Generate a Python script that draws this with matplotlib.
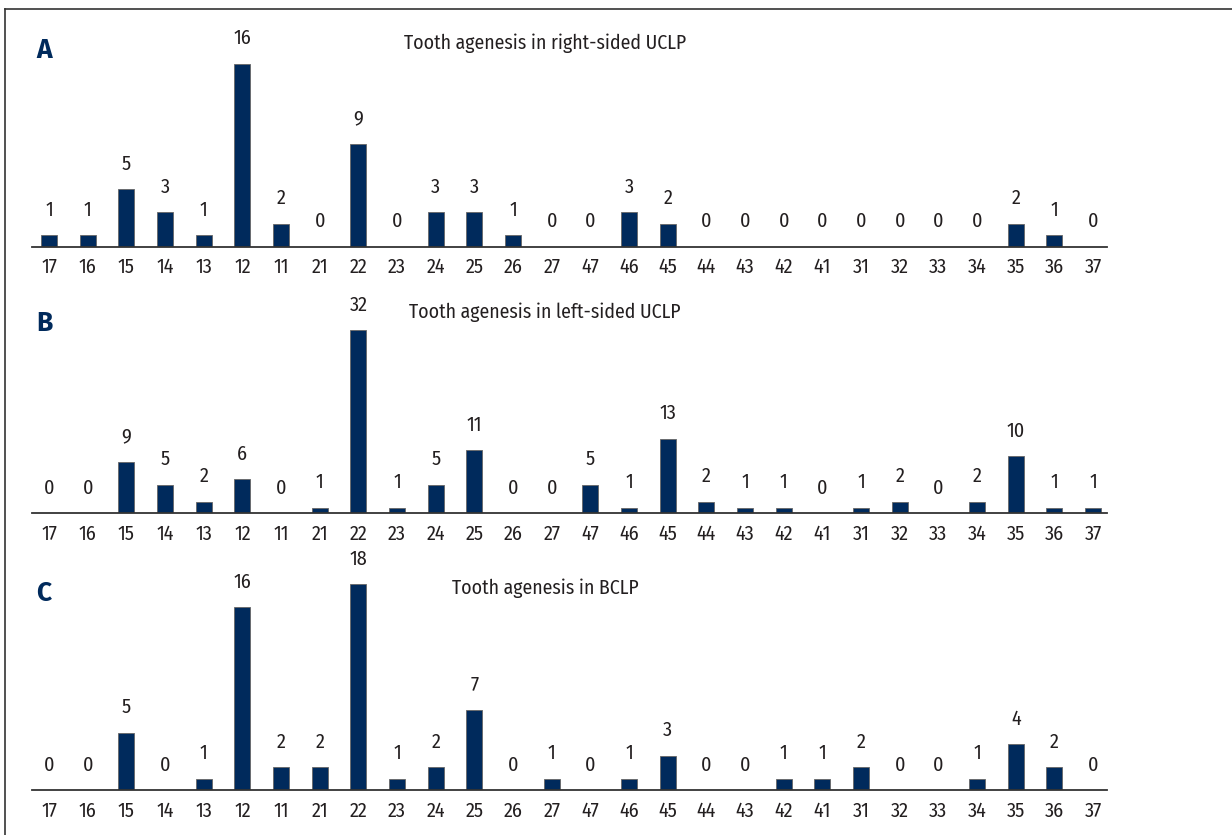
import matplotlib
matplotlib.use("Agg")
import matplotlib.pyplot as plt
from matplotlib.lines import Line2D

plt.rcParams['font.family'] = ['Fira Sans Condensed', 'DejaVu Sans']

teeth = ["17", "16", "15", "14", "13", "12", "11",
         "21", "22", "23", "24", "25", "26", "27",
         "47", "46", "45", "44", "43", "42", "41",
         "31", "32", "33", "34", "35", "36", "37"]

right_uclp = [1, 1, 5, 3, 1, 16, 2, 0, 9, 0, 3, 3, 1, 0,
              0, 3, 2, 0, 0, 0, 0, 0, 0, 0, 0, 2, 1, 0]
left_uclp = [0, 0, 9, 5, 2, 6, 0, 1, 32, 1, 5, 11, 0, 0,
             5, 1, 13, 2, 1, 1, 0, 1, 2, 0, 2, 10, 1, 1]
bclp = [0, 0, 5, 0, 1, 16, 2, 2, 18, 1, 2, 7, 0, 1,
        0, 1, 3, 0, 0, 1, 1, 2, 0, 0, 1, 4, 2, 0]

letters = ["A", "B", "C"]
titles = ["Tooth agenesis in right-sided UCLP",
          "Tooth agenesis in left-sided UCLP",
          "Tooth agenesis in BCLP"]

navy = "#002A5C"
text_col = "#231F20"
W, H = 1232, 835

fig = plt.figure(figsize=(W / 100, H / 100), dpi=100)

# panel geometry in pixels: (baseline y, top y, ymax)
panels = [(246.7, 20, 19.8), (513.3, 290, 39.0), (790, 565, 19.67)]
title_y = [43, 312, 588]
letter_y = [50, 323, 593]
series = [right_uclp, left_uclp, bclp]

x = list(range(len(teeth)))
for i, (vals, (base, top, ymax)) in enumerate(zip(series, panels)):
    ax = fig.add_axes([32 / W, 1 - base / H, (1107 - 32) / W, (base - top) / H])
    ax.bar(x, vals, width=0.41, color=navy, edgecolor="#666666", linewidth=0.6)
    ax.set_xlim(-0.44, 27.36)
    ax.set_ylim(0, ymax)
    for s in ["top", "left", "right"]:
        ax.spines[s].set_visible(False)
    ax.spines["bottom"].set_color("#333333")
    ax.spines["bottom"].set_linewidth(1.3)
    ax.set_yticks([])
    ax.set_xticks(x)
    ax.set_xticklabels(teeth, fontsize=14.5, color=text_col)
    ax.tick_params(axis="x", length=0, pad=8)
    for xi, v in zip(x, vals):
        ax.annotate(str(v), (xi, v), xytext=(0, 14), textcoords="offset points",
                    ha="center", va="baseline", fontsize=14.5, color=text_col)
    fig.text(545 / W, 1 - title_y[i] / H, titles[i], ha="center", va="center",
             fontsize=14.2, color=text_col)
    fig.text(36 / W, 1 - letter_y[i] / H, letters[i], ha="left", va="center",
             fontsize=19, fontweight="bold", color=navy, family=["Fira Sans", "DejaVu Sans"])

# frame around the figure (left and top edges visible)
fig.add_artist(Line2D([5 / W, 5 / W], [0, 1 - 9 / H], color="#333333", linewidth=1.2))
fig.add_artist(Line2D([5 / W, 1], [1 - 9 / H, 1 - 9 / H], color="#333333", linewidth=1.2))

fig.savefig("out.png", dpi=100)
